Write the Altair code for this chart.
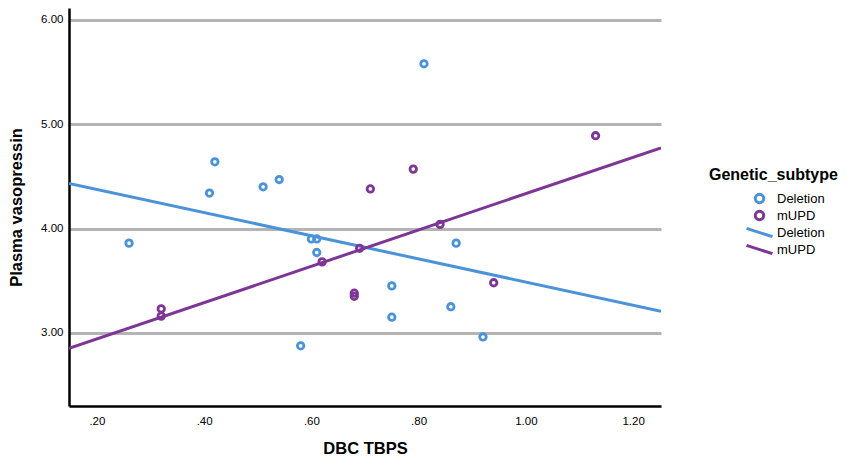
import altair as alt
import pandas as pd

# ---- data ----
del_x = [0.26, 0.42, 0.41, 0.51, 0.54, 0.60, 0.61, 0.61, 0.58, 0.75, 0.75, 0.81, 0.87, 0.86, 0.92]
del_y = [3.86, 4.64, 4.34, 4.40, 4.47, 3.90, 3.90, 3.77, 2.875, 3.45, 3.15, 5.58, 3.86, 3.25, 2.96]
mupd_x = [0.32, 0.32, 0.68, 0.68, 0.62, 0.69, 0.71, 0.79, 0.84, 0.94, 1.13]
mupd_y = [3.23, 3.16, 3.38, 3.35, 3.68, 3.81, 4.38, 4.57, 4.04, 3.48, 4.89]
subtypes = ["Deletion", "mUPD"]
legend_keys = ["Deletion", "mUPD", "Deletion ", "mUPD "]
x_ticks = [0.2, 0.4, 0.6, 0.8, 1.0, 1.2]
y_ticks = [3, 4, 5, 6]

# ---- styles ----
BLUE = "#4b93d8"
PURPLE = "#7d3596"
colors = [BLUE, PURPLE, BLUE, PURPLE]
x_domain = [0.148, 1.252]
y_domain = [2.298, 6.115]
FONT = "Liberation Sans"
line_path = "M-3.1,-1L3.1,1"

df = pd.DataFrame({
    "x": del_x + mupd_x,
    "y": del_y + mupd_y,
    "subtype": [subtypes[0]] * len(del_x) + [subtypes[1]] * len(mupd_x),
})

color = alt.Color(
    "key:N",
    scale=alt.Scale(domain=legend_keys, range=colors),
    legend=alt.Legend(
        title="Genetic_subtype",
        orient="none",
        legendX=640,
        legendY=159,
        titleFontSize=16,
        titleFont=FONT,
        titleFontWeight="bold",
        titleColor="black",
        titlePadding=9,
        labelFont=FONT,
        labelFontSize=13,
        labelColor="black",
        symbolSize=70,
        symbolStrokeWidth=3,
        symbolOffset=44,
        labelOffset=11,
        rowPadding=-7.5,
        padding=0,
    ),
)
shape = alt.Shape(
    "key:N",
    scale=alt.Scale(domain=legend_keys, range=["circle", "circle", line_path, line_path]),
)

xenc = alt.X(
    "x:Q",
    scale=alt.Scale(domain=x_domain, nice=False, zero=False),
    axis=alt.Axis(
        title="DBC TBPS",
        values=x_ticks,
        labelExpr="datum.value < 1 ? substring(format(datum.value, '.2f'), 1) : format(datum.value, '.2f')",
        grid=False,
        ticks=False,
        tickSize=0,
        domainColor="black",
        domainWidth=2.5,
        labelPadding=9,
        titlePadding=14,
    ),
)
yenc = alt.Y(
    "y:Q",
    scale=alt.Scale(domain=y_domain, nice=False, zero=False),
    axis=alt.Axis(
        title="Plasma vasopressin",
        values=y_ticks,
        format=".2f",
        grid=True,
        gridColor="#b4b4b4",
        gridWidth=3,
        ticks=False,
        tickSize=0,
        domainColor="black",
        domainWidth=2.5,
        labelPadding=6,
        titlePadding=16,
    ),
)

lines = (
    alt.Chart(df)
    .transform_regression("x", "y", groupby=["subtype"], extent=x_domain)
    .transform_calculate(key="datum.subtype + ' '")
    .mark_line(strokeWidth=3, clip=True)
    .encode(x=xenc, y=yenc, color=color)
)

points = (
    alt.Chart(df)
    .transform_calculate(key="datum.subtype")
    .mark_point(filled=False, size=42, strokeWidth=2.8, opacity=1)
    .encode(x=xenc, y=yenc, color=color, shape=shape)
)

chart = (
    alt.layer(lines, points)
    .properties(width=592, height=398, padding={"left": 0, "top": 0, "right": 0, "bottom": 0})
    .configure_view(stroke=None)
    .configure_axis(
        labelFont=FONT,
        labelFontSize=11.5,
        labelColor="black",
        titleFont=FONT,
        titleFontSize=16.5,
        titleFontWeight="bold",
        titleColor="black",
    )
)

chart.save("out.html", embed_options={"renderer": "svg", "actions": False})
